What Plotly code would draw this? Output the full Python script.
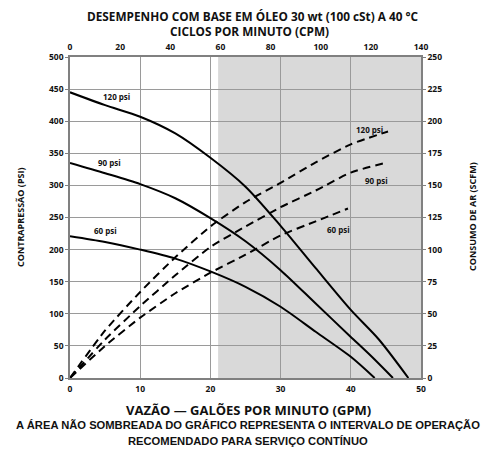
import plotly.graph_objects as go

# Solid curves: back pressure (psi) vs flow (GPM)
gpm_120 = [0, 5, 10, 15, 20, 25, 30, 35, 40, 44, 48.2]
psi_120 = [445, 425, 407, 381, 343, 298, 237, 171, 106, 60, 0]
gpm_90 = [0, 5, 10, 15, 20, 25, 30, 35, 40, 43, 46.0]
psi_90 = [335, 319, 302, 280, 249, 213, 168, 116, 64, 33, 0]
gpm_60 = [0, 5, 10, 15, 20, 25, 30, 35, 40, 43.4]
psi_60 = [221, 212, 200, 186, 166, 142, 111, 72, 33, 0]

# Dashed curves: air consumption (SCFM) vs flow (GPM)
agpm_120 = [0, 5, 10, 15, 20, 25, 30, 35, 40, 45.3]
scfm_120 = [0, 37, 67, 94, 118, 137, 152, 168, 182, 192]
agpm_90 = [0, 5, 10, 15, 20, 25, 30, 35, 40, 45.3]
scfm_90 = [0, 30, 56, 80, 102, 118, 133, 146, 160, 168]
agpm_60 = [0, 5, 10, 15, 20, 25, 30, 35, 39.6]
scfm_60 = [0, 25, 47, 66, 82, 96, 111, 122, 132]

shade_start = 21.1
gpm_ticks = [0, 10, 20, 30, 40, 50]
cpm_ticks = [0, 20, 40, 60, 80, 100, 120, 140]

TXT = "#111111"
FONT = "Open Sans"
tickfont = dict(family=FONT, size=8.5, color=TXT, weight="bold")

fig = go.Figure()
solid = dict(color="#000000", width=2, shape="spline", smoothing=0.8)
dashed = dict(color="#000000", width=2, dash="8px,5px", shape="spline", smoothing=0.6)
for x, y in [(gpm_120, psi_120), (gpm_90, psi_90), (gpm_60, psi_60)]:
    fig.add_trace(go.Scatter(x=x, y=y, mode="lines", line=solid, xaxis="x", yaxis="y",
                             showlegend=False, hoverinfo="skip"))
for x, y in [(agpm_120, scfm_120), (agpm_90, scfm_90), (agpm_60, scfm_60)]:
    fig.add_trace(go.Scatter(x=x, y=y, mode="lines", line=dashed, xaxis="x", yaxis="y2",
                             showlegend=False, hoverinfo="skip"))
# invisible trace to activate top axis
fig.add_trace(go.Scatter(x=[0, 140], y=[None, None], xaxis="x2", yaxis="y",
                         showlegend=False, hoverinfo="skip"))

fig.add_shape(type="rect", xref="x", yref="paper", x0=shade_start, x1=50, y0=0, y1=1,
              fillcolor="#d9d9d9", line=dict(width=0), layer="below")

lbl = dict(family=FONT, size=8, color=TXT, weight="bold")
anns = [
    dict(x=6.6, y=439, xref="x", yref="y", text="120 psi"),
    dict(x=5.6, y=335, xref="x", yref="y", text="90 psi"),
    dict(x=5.1, y=230, xref="x", yref="y", text="60 psi"),
    dict(x=42.7, y=387, xref="x", yref="y", text="120 psi"),
    dict(x=43.7, y=308, xref="x", yref="y", text="90 psi"),
    dict(x=38.3, y=232, xref="x", yref="y", text="60 psi"),
]
for a in anns:
    fig.add_annotation(**a, showarrow=False, font=lbl)

def py(p):
    return (378 - p) / 321.0

def px(p):
    return (p - 70) / 351.0

def note(text, x, y, font, **kw):
    fig.add_annotation(x=px(x), y=py(y), xref="paper", yref="paper", showarrow=False,
                       xanchor="center", yanchor="middle", text=text, font=font, **kw)

title_font = dict(family=FONT, size=11.8, color=TXT, weight="bold")
note("DESEMPENHO COM BASE EM ÓLEO 30 wt (100 cSt) A 40 °C", 253, 16, title_font)
note("CICLOS POR MINUTO (CPM)", 250, 31, title_font)
note("VAZÃO — GALÕES POR MINUTO (GPM)", 248, 410, dict(family=FONT, size=13, color=TXT, weight="bold"))
foot = dict(family="Liberation Sans", size=11.2, color=TXT, weight="bold")
note("A ÁREA NÃO SOMBREADA DO GRÁFICO REPRESENTA O INTERVALO DE OPERAÇÃO", 248, 425, foot)
note("RECOMENDADO PARA SERVIÇO CONTÍNUO", 248, 441, foot)
ax_font = dict(family=FONT, size=9, color=TXT, weight="bold")
note("CONTRAPRESSÃO (PSI)", 20, 217, ax_font, textangle=-90)
note("CONSUMO DE AR (SCFM)", 472, 217, ax_font, textangle=-90)

axis_line = dict(showline=True, linecolor="#808080", linewidth=1.5, mirror=False)
fig.update_layout(
    width=483, height=443,
    margin=dict(l=62, r=70, t=49, b=73),
    paper_bgcolor="white", plot_bgcolor="rgba(0,0,0,0)",
    xaxis=dict(range=[0, 50], tickvals=gpm_ticks, showgrid=True, gridcolor="#9a9a9a", gridwidth=1,
               zeroline=False, tickfont=tickfont, ticks="", ticklabelstandoff=2, **axis_line),
    xaxis2=dict(range=[0, 140], tickvals=cpm_ticks, overlaying="x", side="top", showgrid=False,
                zeroline=False, tickfont=tickfont, ticks="", ticklabelstandoff=2, **axis_line),
    yaxis=dict(range=[0, 500], dtick=50, showgrid=True, gridcolor="#9a9a9a", gridwidth=1,
               zeroline=False, tickfont=tickfont, ticks="outside", ticklen=3, tickcolor="#808080",
               **axis_line),
    yaxis2=dict(range=[0, 250], dtick=25, overlaying="y", side="right", showgrid=False,
                zeroline=False, tickfont=tickfont, ticks="outside", ticklen=3, tickcolor="#808080",
                **axis_line),
)
fig.write_html("out.html")
